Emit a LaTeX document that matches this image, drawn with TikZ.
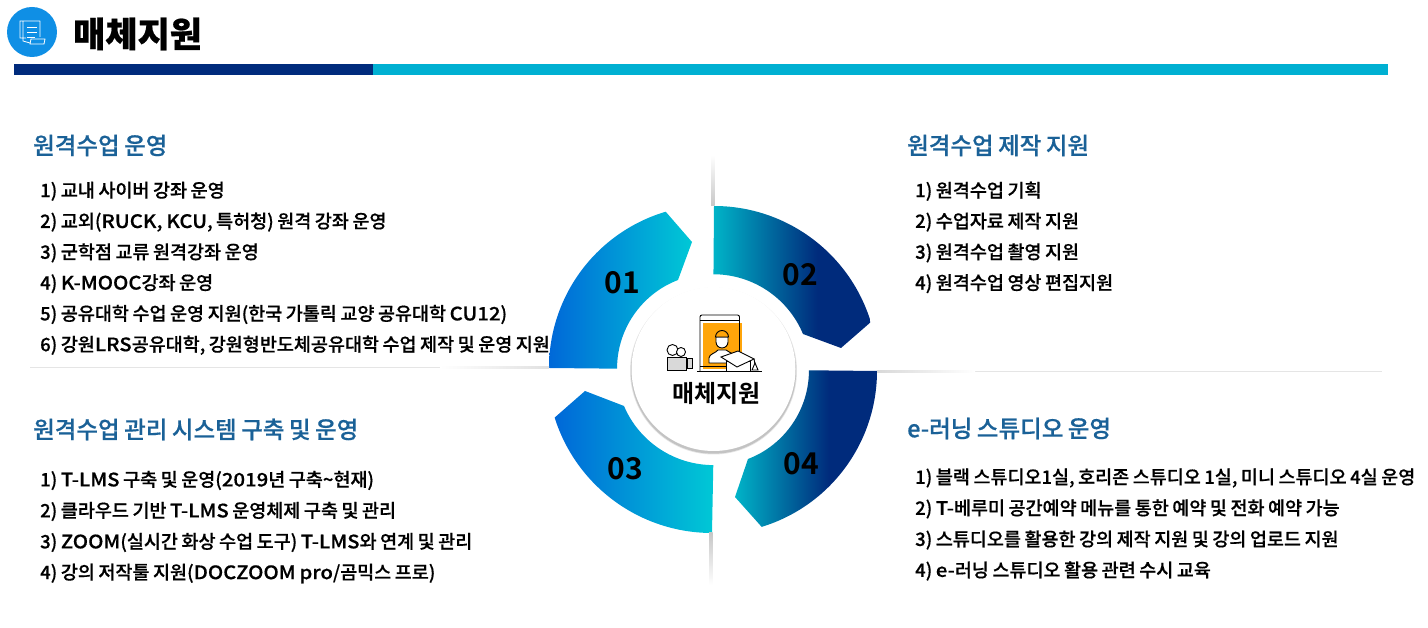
\documentclass[tikz,border=0pt]{standalone}
\usepackage{fontspec}
\setmainfont[FakeBold=0.5,WordSpace=0.85]{Noto Sans CJK KR Medium}
\newfontfamily\titlefont[FakeBold=0.6]{Noto Sans CJK KR Black}
\newfontfamily\numfont{Noto Sans CJK KR Bold}
\usetikzlibrary{calc}

\definecolor{navy}{HTML}{002B7C}
\definecolor{teal}{HTML}{00C8D6}
\definecolor{tealdark}{HTML}{00B4C8}
\definecolor{azure}{HTML}{0068D8}
\definecolor{headblue}{HTML}{1A6197}
\definecolor{barcyan}{HTML}{00B0D2}
\definecolor{iconblue}{HTML}{0F8FE5}
\definecolor{orangefill}{HTML}{FFA50A}

\pgfdeclarehorizontalshading{tealnavy}{100bp}{color(0bp)=(tealdark); color(25bp)=(tealdark); color(58bp)=(navy); color(100bp)=(navy)}
\pgfdeclarehorizontalshading{azureteal}{100bp}{color(0bp)=(azure); color(25bp)=(azure); color(75bp)=(teal); color(100bp)=(teal)}

\newcommand{\lat}[1]{\scalebox{1.1}[1]{#1}}

\begin{document}
\begin{tikzpicture}[
    x=1pt, y=1pt,
    item/.style={anchor=west, inner sep=0pt, font=\fontsize{18.5}{18.5}\selectfont, text=black},
    head/.style={anchor=west, inner sep=0pt, font=\fontsize{23.5}{23.5}\selectfont, text=headblue},
    num/.style={inner sep=0pt, font=\numfont\fontsize{30}{30}\selectfont},
    iconline/.style={black, line width=0.9pt},
]
\useasboundingbox (0,0) rectangle (1428,628);

% Segments
\shade[shading=azureteal] (549,260) arc[start angle=180, end angle=106.5, radius=163] -- (692,386) -- (678,348) arc[start angle=111, end angle=180, radius=95] -- cycle;
\shade[shading=tealnavy] (714,422) arc[start angle=90, end angle=17, radius=164] -- (841,280) -- (803,294) arc[start angle=22.6, end angle=90, radius=97] -- cycle;
\shade[shading=azureteal] (712,95) arc[start angle=270, end angle=197.5, radius=165] -- (585,237) -- (624,222) arc[start angle=203, end angle=270, radius=97] -- cycle;
\shade[shading=tealnavy] (877,257) arc[start angle=0, end angle=-73, radius=163] -- (735,131) -- (748,169) arc[start angle=-69, end angle=0, radius=95] -- cycle;

\begin{scope}[shift={(0,628)}, yscale=-1]
% Title
\fill[iconblue] (32,32) circle (25);
\draw[white, line width=0.8pt] (26,38) -- (20,38) -- (20,21) -- (40,21) (23,21) -- (23,41) -- (30,43) (40,21) -- (40,37);
\draw[white, line width=0.8pt] (27,27) -- (37,27) (27,32) -- (37,32) (27,37) -- (35,37);
\draw[white, line width=0.8pt] (30,44) -- (44,44) -- (45,39) -- (31,39) -- cycle;
\node[anchor=west, inner sep=0pt, font=\titlefont\fontsize{35}{35}\selectfont] (title) at (73,34) {매체지원};
\fill[navy] (14,64) rectangle (373,75);
\fill[barcyan] (373,64) rectangle (1388,75);

% Rules
\draw[black!10] (30,367) -- (450,367);
\draw[black!10] (880,371) -- (1382,371);
\shade[left color=white, right color=black!12] (440,366.5) rectangle (549,368.5);
\shade[left color=black!15, right color=white] (877,370.5) rectangle (975,372.5);
\shade[top color=white, bottom color=black!22] (711,155) rectangle (714.5,206);
\shade[top color=black!22, bottom color=white] (709,533) rectangle (712.5,585);

% Left top
\node[head] (h1) at (33,145.5) {원격수업 운영};
\foreach \i/\t in {1/{1) 교내 사이버 강좌 운영},
                   2/{2) 교외(\lat{RUCK, KCU}, 특허청) 원격 강좌 운영},
                   3/{3) 군학점 교류 원격강좌 운영},
                   4/{4) \lat{K-MOOC}강좌 운영},
                   5/{5) 공유대학 수업 운영 지원(한국 가톨릭 교양 공유대학 \lat{CU12})},
                   6/{6) 강원\lat{LRS}공유대학, 강원형반도체공유대학 수업 제작 및 운영 지원}} {
    \node[item] (a\i) at (40,{160.5+\i*30.8}) {\t};
}

% Right top
\node[head] (h2) at (907,145.5) {원격수업 제작 지원};
\foreach \i/\t in {1/{1) 원격수업 기획},
                   2/{2) 수업자료 제작 지원},
                   3/{3) 원격수업 촬영 지원},
                   4/{4) 원격수업 영상 편집지원}} {
    \node[item] (b\i) at (915,{160.5+\i*30.8}) {\t};
}

% Left bottom
\node[head] (h3) at (33,429.5) {원격수업 관리 시스템 구축 및 운영};
\foreach \i/\t in {1/{1) \lat{T-LMS} 구축 및 운영(\lat{2019}년 구축\textasciitilde 현재)},
                   2/{2) 클라우드 기반 \lat{T-LMS} 운영체제 구축 및 관리},
                   3/{3) \lat{ZOOM}(실시간 화상 수업 도구) \lat{T-LMS}와 연계 및 관리},
                   4/{4) 강의 저작툴 지원(\lat{DOCZOOM pro}/곰믹스 프로)}} {
    \node[item] (c\i) at (40,{449.5+\i*31}) {\t};
}

% Right bottom
\node[head] (h4) at (907,428.5) {e-러닝 스튜디오 운영};
\foreach \i/\t in {1/{1) 블랙 스튜디오1실, 호리존 스튜디오 1실, 미니 스튜디오 4실 운영},
                   2/{2) \lat{T-}베루미 공간예약 메뉴를 통한 예약 및 전화 예약 가능},
                   3/{3) 스튜디오를 활용한 강의 제작 지원 및 강의 업로드 지원},
                   4/{4) \lat{e-}러닝 스튜디오 활용 관련 수시 교육}} {
    \node[item] (d\i) at (915,{447+\i*31}) {\t};
}

% Numbers
\node[num] (n1) at (622,283) {01};
\node[num] (n2) at (800,275) {02};
\node[num] (n3) at (625,469) {03};
\node[num] (n4) at (801,464) {04};

% Centre disc
\foreach \r/\o in {83.5/0.1,82.7/0.15} {
    \fill[black, opacity=\o] (713.5,371) circle (\r);
}
\fill[white] (713.5,369) circle (82);

% Tablet with figure and cap
\fill[orangefill] (703,323) rectangle (742,369);
\draw[iconline, rounded corners=2pt] (700,371) -- (700,315) -- (739.5,315) -- (739.5,358);
\draw[iconline] (700,320) -- (739.5,320);
\draw[iconline] (700,366) -- (726,366);
\draw[iconline] (697,371) -- (762,371);
\draw[iconline, fill=white] (709,363) -- (709,358) .. controls (709,354) and (716,353) .. (718,350) -- (726,350) .. controls (730,353) and (735,354) .. (736,358) -- (736,363) -- cycle;
\draw[iconline, fill=white] (716,337) -- (716,342) arc[start angle=180, end angle=0, radius=6] -- (728,337) -- cycle;
\draw[iconline, fill=orangefill] (715.5,337) arc[start angle=180, end angle=360, radius=6.5] -- cycle;
\draw[iconline, fill=white] (726,361) rectangle (750,371);
\draw[iconline, fill=white] (721,357) -- (738,351) -- (754,359) -- (737,367) -- cycle;
\draw[iconline] (754,359) -- (755,364);
\draw[iconline, fill=white] (755,363) -- (758,370) -- (752,370) -- cycle;

% Camera
\draw[iconline, fill=black!15] (667,357) rectangle (686,370);
\draw[iconline, fill=white] (672.5,350) circle (5.5);
\draw[iconline, fill=white] (681,352) circle (4.5);
\draw[iconline, fill=black!15] (687,358) rectangle (692,368);

\node[inner sep=0pt, font=\numfont\fontsize{24}{24}\selectfont] (centre) at (716.5,394) {매체지원};
\end{scope}
\end{tikzpicture}
\end{document}
